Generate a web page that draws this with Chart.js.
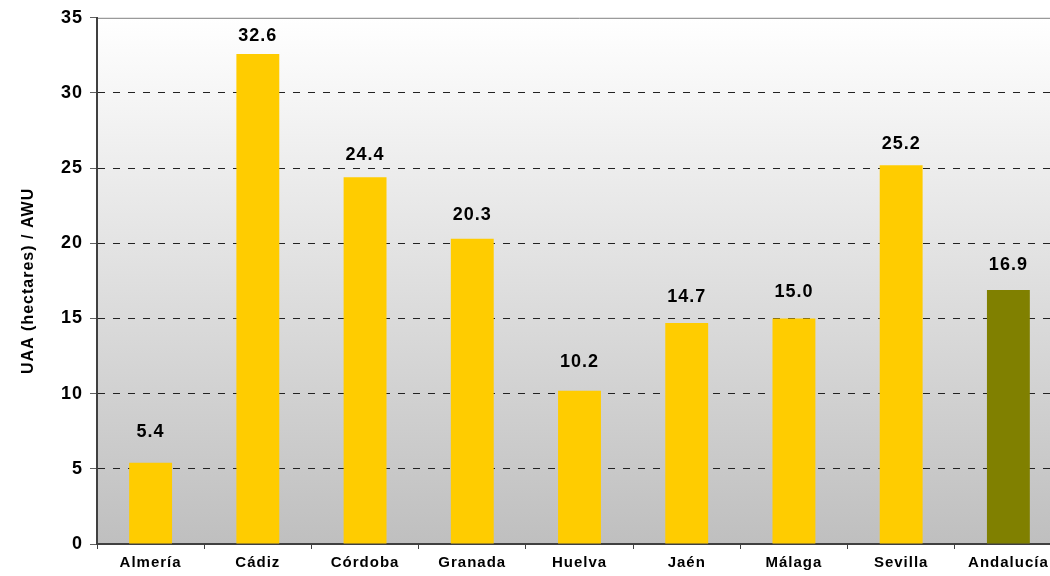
<!DOCTYPE html>
<html>
<head>
<meta charset="utf-8">
<script src="https://cdn.jsdelivr.net/npm/chart.js@4/dist/chart.umd.min.js"></script>
<style>
  html, body { margin: 0; padding: 0; background: #fff; overflow: hidden; }
  #wrap { width: 1062px; height: 576px; }
</style>
</head>
<body>
<div id="wrap"><canvas id="c" width="1062" height="576"></canvas></div>
<script>
const provinces = ['Almería', 'Cádiz', 'Córdoba', 'Granada', 'Huelva', 'Jaén', 'Málaga', 'Sevilla', 'Andalucía'];
const uaaPerAwu = [5.4, 32.6, 24.4, 20.3, 10.2, 14.7, 15.0, 25.2, 16.9];
const barColors = ['#FFCC00', '#FFCC00', '#FFCC00', '#FFCC00', '#FFCC00', '#FFCC00', '#FFCC00', '#FFCC00', '#808000'];
const yTicks = [0, 5, 10, 15, 20, 25, 30, 35];

const FONT = '"Liberation Sans", Arial, sans-serif';

// gradient background behind the plot + solid top border
const bgPlugin = {
  id: 'bg',
  beforeDraw(chart) {
    const { ctx, chartArea: a } = chart;
    ctx.letterSpacing = '1px'; // excel-ish spaced text
    const g = ctx.createLinearGradient(0, a.top, 0, a.bottom);
    g.addColorStop(0, '#ffffff');
    g.addColorStop(1, '#bfbfbf');
    ctx.save();
    ctx.fillStyle = g;
    ctx.fillRect(a.left, a.top, a.right - a.left, a.bottom - a.top);
    ctx.strokeStyle = '#808080';
    ctx.lineWidth = 1;
    ctx.beginPath();
    ctx.moveTo(a.left, a.top + 0.5);
    ctx.lineTo(a.right, a.top + 0.5);
    ctx.stroke();
    ctx.restore();
  },
  afterDraw(chart) {
    chart.ctx.letterSpacing = '0px';
  }
};

// value labels above bars (excel puts them a bit further off short bars)
const labelPlugin = {
  id: 'vals',
  afterDatasetsDraw(chart) {
    const { ctx } = chart;
    const meta = chart.getDatasetMeta(0);
    ctx.save();
    ctx.font = 'bold 18px ' + FONT;
    ctx.fillStyle = '#000';
    ctx.textAlign = 'center';
    ctx.textBaseline = 'bottom';
    meta.data.forEach((bar, i) => {
      const h = bar.base - bar.y;
      const gap = 24 - 0.031 * h;
      ctx.fillText(uaaPerAwu[i].toFixed(1), bar.x, bar.y - gap);
    });
    ctx.restore();
  }
};

new Chart(document.getElementById('c'), {
  type: 'bar',
  data: {
    labels: provinces,
    datasets: [{
      data: uaaPerAwu,
      backgroundColor: barColors,
      barPercentage: 0.4,
      categoryPercentage: 1.0
    }]
  },
  options: {
    responsive: false,
    animation: false,
    layout: { padding: { top: 17, right: 0, left: 0, bottom: 0 } },
    plugins: {
      legend: { display: false },
      tooltip: { enabled: false }
    },
    scales: {
      x: {
        afterFit: s => { s.height = 32; },
        grid: {
          offset: true,
          drawOnChartArea: false,
          drawTicks: true,
          tickLength: 5,
          color: '#404040'
        },
        border: { color: '#404040', width: 2 },
        ticks: {
          color: '#000',
          font: { family: FONT, size: 15, weight: 'bold' },
          padding: 5,
          maxRotation: 0
        }
      },
      y: {
        min: 0,
        max: 35,
        afterFit: s => { s.width = 97; },
        afterBuildTicks: s => { s.ticks = yTicks.map(v => ({ value: v })); },
        grid: {
          color: c => (c.tick && c.tick.value === 35) ? 'rgba(0,0,0,0)' : '#222',
          tickBorderDash: [],
          tickColor: '#606060',
          tickLength: 7,
          lineWidth: 1
        },
        border: { color: '#404040', width: 2, dash: [7, 8] },
        ticks: {
          color: '#000',
          font: { family: FONT, size: 18, weight: 'bold' },
          padding: 7
        },
        title: {
          display: true,
          text: 'UAA (hectares) / AWU',
          color: '#000',
          font: { family: FONT, size: 16, weight: 'bold' },
          padding: { top: 19, bottom: 0 }
        }
      }
    }
  },
  plugins: [bgPlugin, labelPlugin]
});
</script>
</body>
</html>
